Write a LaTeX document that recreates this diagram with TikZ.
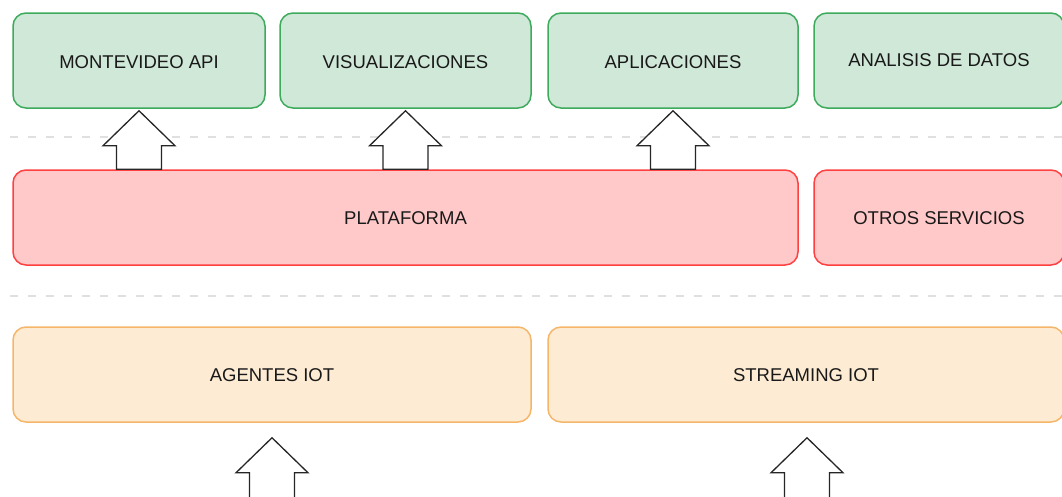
\documentclass[tikz,border=0pt]{standalone}
\usepackage{fontspec}
\setmainfont{Liberation Sans}
\usetikzlibrary{calc}
\definecolor{gfill}{HTML}{CFE8D7}
\definecolor{gline}{HTML}{3DAA5C}
\definecolor{rfill}{HTML}{FFC9C9}
\definecolor{rline}{HTML}{FF4040}
\definecolor{ofill}{HTML}{FDEBD3}
\definecolor{oline}{HTML}{F5B66A}
\definecolor{dline}{HTML}{E0E0E0}
\begin{document}
\begin{tikzpicture}[x=1pt,y=-1pt,
  box/.style={draw, line width=1.5pt, rounded corners=13pt, inner sep=0pt,
    font=\fontsize{18.5}{22}\selectfont, text=black!90, text height=13pt, text depth=0pt},
  gbox/.style={box, fill=gfill, draw=gline},
  rbox/.style={box, fill=rfill, draw=rline},
  obox/.style={box, fill=ofill, draw=oline},
  sep/.style={draw=dline, line width=2pt, dash pattern=on 8pt off 10pt},
  blockarrow/.style={draw=black!85, fill=white, line width=1.3pt, line join=miter}]
\useasboundingbox (0,0) rectangle (1062,496);
\newcommand\blockup[2]{%
  \path[blockarrow] let \p1=#1, \p2=#2 in
    (\x1-22.5pt,\y2) -- (\x1-22.5pt,\y1-35pt) -- (\x1-36pt,\y1-35pt) -- (\x1,\y1)
    -- (\x1+36pt,\y1-35pt) -- (\x1+22.5pt,\y1-35pt) -- (\x1+22.5pt,\y2) -- cycle;}
% top row
\node[gbox, minimum width=252pt, minimum height=95pt, text height=16pt] (mapi) at (139,60.5) {MONTEVIDEO API};
\node[gbox, minimum width=251pt, minimum height=95pt, text height=16pt] (vis) at (405.5,60.5) {VISUALIZACIONES};
\node[gbox, minimum width=250pt, minimum height=95pt, text height=16pt] (apl) at (673,60.5) {APLICACIONES};
\node[gbox, minimum width=250pt, minimum height=95pt, text height=12pt] (ana) at (939,60.5) {ANALISIS DE DATOS};
% separators
\coordinate (s1a) at (10,137);
\coordinate (s1b) at (1062,137);
\coordinate (s2a) at (10,296);
\coordinate (s2b) at (1062,296);
\draw[sep] (s1a) -- (s1b);
\draw[sep] (s2a) -- (s2b);
% middle row
\node[rbox, minimum width=785pt, minimum height=95pt] (plat) at (405.5,217.5) {PLATAFORMA};
\node[rbox, minimum width=250pt, minimum height=95pt] (otros) at (939,217.5) {OTROS SERVICIOS};
% bottom row
\node[obox, minimum width=518pt, minimum height=95pt] (agt) at (272,374.5) {AGENTES IOT};
\node[obox, minimum width=516pt, minimum height=95pt] (str) at (806,374.5) {STREAMING IOT};
% arrows
\blockup{($(mapi.south)+(0,2)$)}{(plat.north)}
\blockup{($(vis.south)+(0,2)$)}{(plat.north)}
\blockup{($(apl.south)+(0,2)$)}{(plat.north)}
\coordinate (b1) at (272,500);
\coordinate (b2) at (807,500);
\blockup{($(agt.south)+(0,15)$)}{(b1)}
\blockup{($(str.south)+(1,15)$)}{(b2)}
\end{tikzpicture}
\end{document}
